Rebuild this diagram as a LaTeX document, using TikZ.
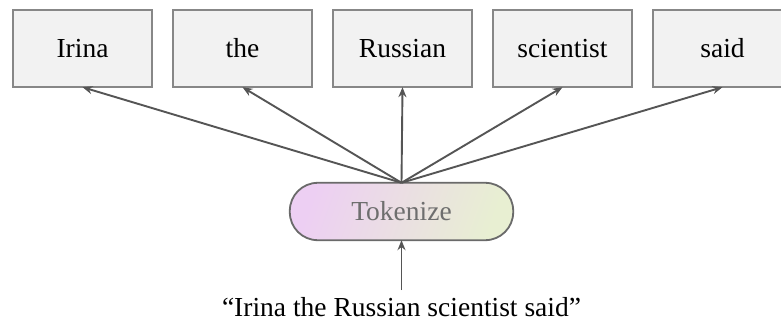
\documentclass[tikz,border=0pt]{standalone}
\usepackage{fontspec}
\setmainfont{Liberation Serif}
\usetikzlibrary{arrows.meta}
\definecolor{boxfill}{HTML}{F2F2F2}
\definecolor{boxedge}{HTML}{878787}
\definecolor{pillL}{HTML}{EDCFF3}
\definecolor{pillR}{HTML}{E8EFD2}
\definecolor{pilledge}{HTML}{6A6A6A}
\definecolor{arrowcol}{HTML}{555555}
\definecolor{pilltext}{HTML}{6E6E6E}
\tikzset{
  x=1pt, y=-1pt,
  label text/.style={font=\fontsize{27.5}{33}\selectfont},
  tokenbox/.style={label text, fill=boxfill,
    minimum width=139pt, minimum height=77pt, inner sep=0pt},
  boxborder/.style={draw=boxedge, line width=1.8pt},
  pill/.style={label text, rounded corners=28pt,
    left color=pillL, right color=pillR, shading angle=70,
    minimum width=223pt, minimum height=57pt, inner sep=0pt,
    text=pilltext},
  pillborder/.style={draw=pilledge, line width=1.8pt, rounded corners=28pt},
  conn/.style={draw=arrowcol, line width=1.9pt,
    -{Stealth[length=10pt, width=8pt]}},
  sentence/.style={label text, inner sep=0pt}
}
\begin{document}
\begin{tikzpicture}
  \clip (0,0) rectangle (781,332);
  \fill[white] (0,0) rectangle (781,332);

  % output tokens
  \node[tokenbox] (b1) at (82.5,48.5) {Irina};
  \node[tokenbox] (b2) at (242.5,48.5) {the};
  \node[tokenbox] (b3) at (402.5,48.5) {Russian};
  \node[tokenbox] (b4) at (562.5,48.5) {scientist};
  \node[tokenbox] (b5) at (722.5,48.5) {said};
  \foreach \b in {b1,b2,b3,b4,b5}
    \draw[boxborder] (\b.north west) rectangle (\b.south east);

  % tokenizer step
  \node[pill] (tok) at (401.5,211.5) {Tokenize};
  \draw[pillborder] (tok.north west) rectangle (tok.south east);

  % input sentence
  \node[sentence] (src) at (401.5,307) {“Irina the Russian scientist said”};
  \coordinate (srctop) at (401.5,290);

  \draw[conn] (srctop) -- (tok.south);
  \foreach \b in {b1,b2,b3,b4,b5}
    \draw[conn] (tok.north) -- (\b.south);
\end{tikzpicture}
\end{document}
